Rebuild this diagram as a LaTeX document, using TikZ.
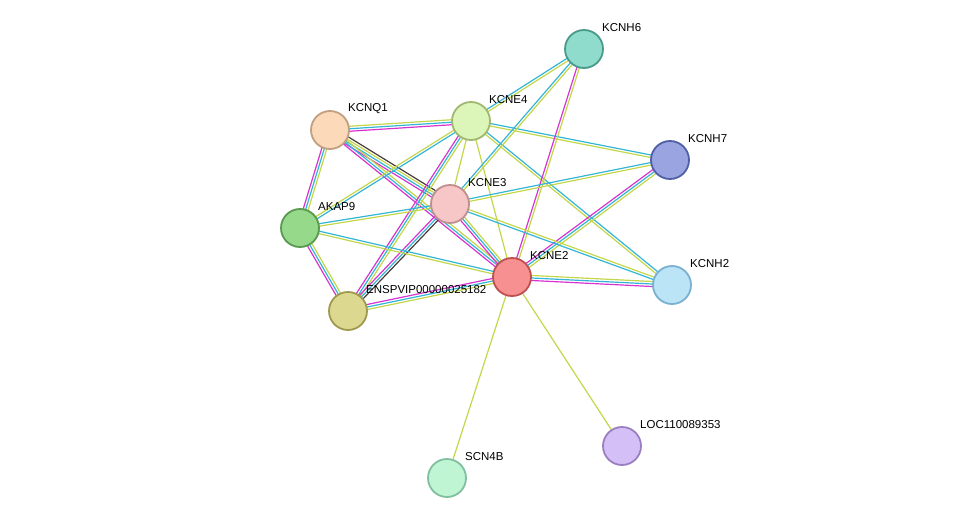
\documentclass[tikz,border=0pt]{standalone}
\usepackage{fontspec}
\setmainfont{Liberation Sans}
\usetikzlibrary{calc,backgrounds}
\definecolor{yl}{HTML}{C4D64A}
\definecolor{cy}{HTML}{33B5D6}
\definecolor{mg}{HTML}{D633D0}
\definecolor{dk}{HTML}{4A3A3A}
\definecolor{fH6}{HTML}{8FDCCC}\definecolor{bH6}{HTML}{4A9A8A}
\definecolor{fE4}{HTML}{DCF5B8}\definecolor{bE4}{HTML}{A0B870}
\definecolor{fQ1}{HTML}{FCD9B8}\definecolor{bQ1}{HTML}{C0A080}
\definecolor{fH7}{HTML}{9AA4E0}\definecolor{bH7}{HTML}{5060A8}
\definecolor{fE3}{HTML}{F7C6C6}\definecolor{bE3}{HTML}{C09090}
\definecolor{fA9}{HTML}{96D98A}\definecolor{bA9}{HTML}{5A9A50}
\definecolor{fE2}{HTML}{F79090}\definecolor{bE2}{HTML}{C05050}
\definecolor{fH2}{HTML}{BCE4F7}\definecolor{bH2}{HTML}{7AB0D0}
\definecolor{fEN}{HTML}{DCD890}\definecolor{bEN}{HTML}{A09A50}
\definecolor{fLO}{HTML}{D4C0F7}\definecolor{bLO}{HTML}{9A80C0}
\definecolor{fSC}{HTML}{C0F5D4}\definecolor{bSC}{HTML}{80C0A0}
\newcommand{\lnk}[3]{%
  \foreach \c/\o in {#3}
    \draw[\c,line width=1.2pt] ($(#1)!\o pt!90:(#2)$) -- ($(#2)!\o pt!-90:(#1)$);}
\begin{document}
\begin{tikzpicture}
  [x=1pt,y=-1pt,
   prot/.style={circle,line width=1.8pt,minimum size=38pt,inner sep=0},
   lbl/.style={anchor=west,font=\fontsize{11.5}{12}\selectfont,inner sep=0}]
  \useasboundingbox (0,0) rectangle (976,524);
  \node[prot,fill=fH6,draw=bH6] (kcnh6) at (584,49) {};
  \node[prot,fill=fE4,draw=bE4] (kcne4) at (471,121) {};
  \node[prot,fill=fQ1,draw=bQ1] (kcnq1) at (330,130) {};
  \node[prot,fill=fH7,draw=bH7] (kcnh7) at (670,160) {};
  \node[prot,fill=fE3,draw=bE3] (kcne3) at (450,204) {};
  \node[prot,fill=fA9,draw=bA9] (akap9) at (300,228) {};
  \node[prot,fill=fE2,draw=bE2] (kcne2) at (512,277) {};
  \node[prot,fill=fH2,draw=bH2] (kcnh2) at (672,285) {};
  \node[prot,fill=fEN,draw=bEN] (ensp) at (348,311) {};
  \node[prot,fill=fLO,draw=bLO] (loc) at (622,446) {};
  \node[prot,fill=fSC,draw=bSC] (scn4b) at (447,478) {};
  % labels
  \node[lbl] (tkcnh6) at (602,28) {KCNH6};
  \node[lbl] (tkcne4) at (489,100) {KCNE4};
  \node[lbl] (tkcnq1) at (348,109) {KCNQ1};
  \node[lbl] (tkcnh7) at (688,139) {KCNH7};
  \node[lbl] (tkcne3) at (468,183) {KCNE3};
  \node[lbl] (takap9) at (318,207) {AKAP9};
  \node[lbl] (tkcne2) at (530,256) {KCNE2};
  \node[lbl] (tkcnh2) at (690,264) {KCNH2};
  \node[lbl] (tensp) at (366,290) {ENSPVIP00000025182};
  \node[lbl] (tloc) at (640,425) {LOC110089353};
  \node[lbl] (tscn4b) at (465,457) {SCN4B};
  \begin{pgfonlayer}{background}
  \lnk{kcnq1}{kcne4}{mg/-2.5,cy/0,yl/2.5}
  \lnk{kcnq1}{kcne3}{mg/-3.75,cy/-1.25,yl/1.25,dk/3.75}
  \lnk{kcnq1}{kcne2}{mg/-2.5,cy/0,yl/2.5}
  \lnk{kcnq1}{akap9}{mg/-2.5,cy/0,yl/2.5}
  \lnk{kcne4}{kcnh6}{yl/-1.25,cy/1.25}
  \lnk{kcne4}{kcnh7}{yl/-1.25,cy/1.25}
  \lnk{kcne4}{kcnh2}{yl/-1.25,cy/1.25}
  \lnk{kcne4}{kcne2}{yl/0}
  \lnk{kcne4}{ensp}{mg/-2.5,cy/0,yl/2.5}
  \lnk{kcne4}{akap9}{yl/-1.25,cy/1.25}
  \lnk{kcne4}{kcne3}{yl/0}
  \lnk{kcnh6}{kcne2}{mg/-1.25,yl/1.25}
  \lnk{kcnh6}{kcne3}{cy/-1.25,yl/1.25}
  \lnk{kcnh7}{kcne3}{cy/-1.25,yl/1.25}
  \lnk{kcnh7}{kcne2}{mg/-2.5,cy/0,yl/2.5}
  \lnk{kcne3}{kcne2}{mg/-2.5,cy/0,yl/2.5}
  \lnk{kcne3}{ensp}{mg/-2.5,cy/0,dk/2.5}
  \lnk{kcne3}{akap9}{cy/-1.25,yl/1.25}
  \lnk{kcne3}{kcnh2}{cy/-1.25,yl/1.25}
  \lnk{kcne2}{kcnh2}{mg/-2.5,cy/0,yl/2.5}
  \lnk{kcne2}{akap9}{cy/-1.25,yl/1.25}
  \lnk{kcne2}{ensp}{mg/-2.5,cy/0,yl/2.5}
  \lnk{kcne2}{loc}{yl/0}
  \lnk{kcne2}{scn4b}{yl/0}
  \lnk{akap9}{ensp}{mg/-2.5,cy/0,yl/2.5}
  \end{pgfonlayer}
\end{tikzpicture}
\end{document}
